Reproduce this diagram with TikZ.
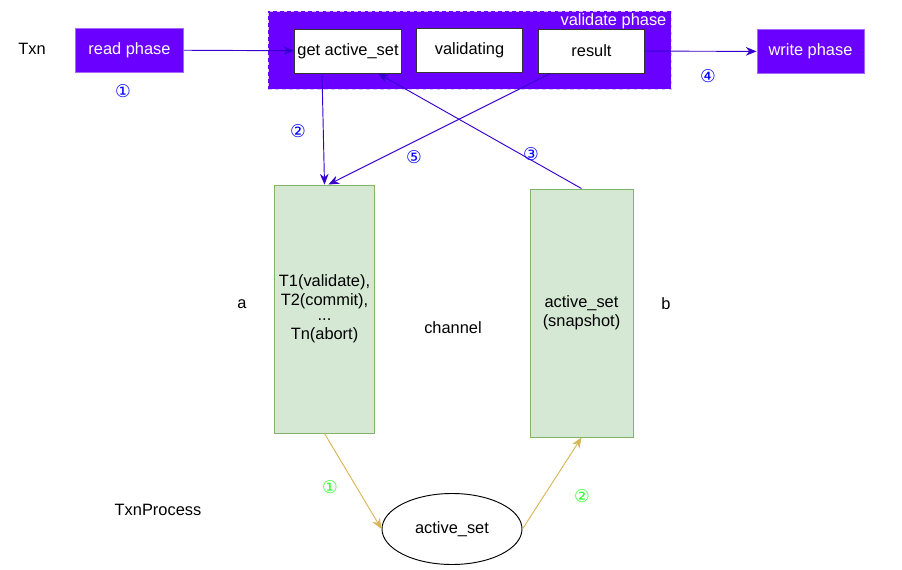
\documentclass[tikz,border=0pt]{standalone}
\usepackage{fontspec}
\setmainfont{Liberation Sans}
\newfontfamily\circfont{DejaVu Sans}
\usetikzlibrary{arrows.meta,calc,shapes.geometric}

\definecolor{phaseviolet}{HTML}{6A00FF}
\definecolor{arrowviolet}{HTML}{3700CC}
\definecolor{chanfill}{HTML}{D5E8D4}
\definecolor{chanline}{HTML}{82B366}
\definecolor{goldline}{HTML}{D6B656}
\definecolor{numgreen}{HTML}{33FF33}

\tikzset{
  phasebox/.style={draw=phaseviolet!60!white, fill=phaseviolet, text=white,
    minimum width=3.24cm, minimum height=1.32cm, inner sep=0pt},
  stepbox/.style={draw=black!80, fill=white, minimum width=3.2cm,
    minimum height=1.32cm, inner sep=0pt},
  chanbox/.style={draw=chanline, fill=chanfill, minimum width=3cm,
    minimum height=7.44cm, align=center, inner sep=0pt},
  flow/.style={draw=arrowviolet, -{Stealth[length=3.2mm,width=2.6mm]}},
  goldflow/.style={draw=goldline, -{Stealth[length=3.2mm,width=2.6mm]}},
  bluenum/.style={text=blue, font=\circfont\fontsize{15}{17}\selectfont},
  greennum/.style={text=numgreen, font=\circfont\fontsize{15}{17}\selectfont}
}

\begin{document}
\begin{tikzpicture}[x=0.03cm, y=-0.03cm, line width=0.8pt,
    font=\fontsize{14}{16.5}\selectfont]
  \useasboundingbox (0,0) rectangle (902,570);

  % validate phase container
  \node (valid) [draw=white!75!phaseviolet, dashed, fill=phaseviolet,
    minimum width=12.09cm, minimum height=2.34cm, inner sep=0pt] at (469.5,50) {};
  \node (validlbl) [text=white, anchor=north east, inner sep=1pt] at (668,12) {validate phase};
  \node (gas) [stepbox] at (348,51) {get active\_set};
  \node (vali) [stepbox] at (469.5,50) {validating};
  \node (res) [stepbox] at (591.5,51) {result};

  % read / write phases
  \node (txn) at (32,49) {Txn};
  \node (read) [phasebox] at (129.5,50) {read phase};
  \node (write) [phasebox, minimum width=3.21cm] at (810.5,51.5) {write phase};
  \draw[flow] (read) -- (gas);
  \draw[flow] (res) -- (write);
  \node (n1) [bluenum] at (123,91) {①};
  \node (n4) [bluenum] at (708,76) {④};

  % channel
  \node (lbox) [chanbox] at (324.5,309) {T1(validate),\\T2(commit),\\[-4pt]...\\Tn(abort)};
  \node (rbox) [chanbox, minimum width=3.09cm] at (581.5,313) {active\_set\\(snapshot)};
  \node (a) at (242,304) {a};
  \node (b) at (666,304) {b};
  \node (chan) at (453,328) {channel};

  \draw[flow] ($(gas.south)+(-26,0)$) -- (lbox.north);
  \draw[flow] ($(res.south)+(-41,0)$) -- ($(lbox.north)+(4,0)$);
  \draw[flow] (rbox.north) -- ($(gas.south)+(30,0)$);
  \node (n2) [bluenum] at (298,131) {②};
  \node (n5) [bluenum] at (414,157) {⑤};
  \node (n3) [bluenum] at (531,154) {③};

  % TxnProcess
  \node (proc) at (158,510) {TxnProcess};
  \node (act) [draw, ellipse, minimum width=4.2cm, minimum height=2.13cm] at (452,529) {active\_set};
  \draw[goldflow] (lbox.south) -- (act.west);
  \draw[goldflow] (act.east) -- (rbox.south);
  \node (g1) [greennum] at (330,487) {①};
  \node (g2) [greennum] at (582,496) {②};
\end{tikzpicture}
\end{document}
